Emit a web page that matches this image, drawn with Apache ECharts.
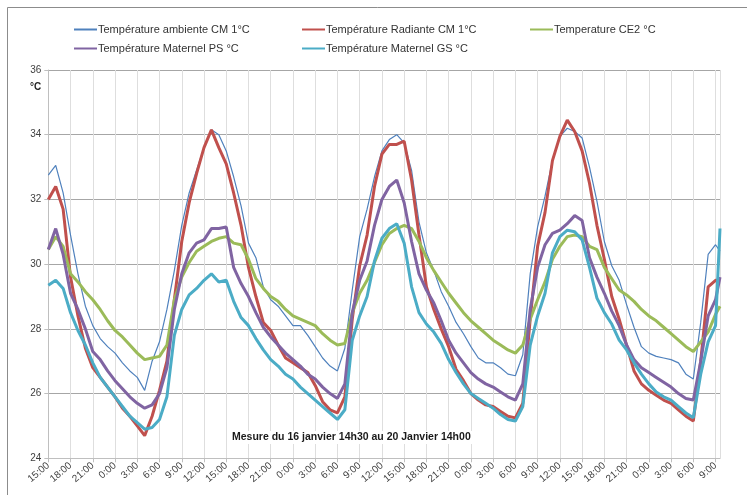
<!DOCTYPE html>
<html>
<head>
<meta charset="utf-8">
<script src="https://cdn.jsdelivr.net/npm/echarts@6/dist/echarts.min.js"></script>
<style>
  html, body { margin: 0; padding: 0; background: #fff; }
  #chart { width: 747px; height: 495px; }
</style>
</head>
<body>
<div id="chart"></div>
<script>
// Hours elapsed since 16 janvier 15:00 (hourly readings + last reading)
const hours = Array.from({ length: 91 }, (_, i) => i).concat([90.6]);

const tickLabels = [
  '15:00','18:00','21:00','0:00','3:00','6:00','9:00','12:00',
  '15:00','18:00','21:00','0:00','3:00','6:00','9:00','12:00',
  '15:00','18:00','21:00','0:00','3:00','6:00','9:00','12:00',
  '15:00','18:00','21:00','0:00','3:00','6:00','9:00'
];

const seriesNames = [
  'Température ambiente CM 1°C',
  'Température Radiante CM 1°C',
  'Temperature CE2 °C',
  'Température Maternel PS °C',
  'Température Maternel GS °C'
];

const ambienteCM1 = [
  32.75,33.05,32.2,30.9,29.7,28.7,28.1,27.7,27.45,27.25,
  26.95,26.7,26.5,26.1,27.0,27.6,28.6,29.8,31.2,32.2,
  32.9,33.6,34.15,34.0,33.5,32.7,31.8,30.65,30.2,29.3,
  28.9,28.7,28.4,28.1,28.1,27.8,27.45,27.1,26.85,26.7,
  27.4,29.2,30.85,31.7,32.7,33.5,33.85,34.0,33.75,32.9,
  31.3,30.35,29.8,29.15,28.7,28.2,27.85,27.45,27.1,26.95,
  26.95,26.8,26.6,26.55,27.2,29.7,31.15,32.1,33.2,33.95,
  34.2,34.1,33.9,33.0,31.95,30.7,29.95,29.5,28.75,28.05,
  27.45,27.25,27.15,27.1,27.05,26.95,26.6,26.45,28.2,30.3,
  30.6,30.4
];

const radianteCM1 = [
  32.0,32.4,31.7,29.6,28.4,27.4,26.8,26.5,26.2,25.9,
  25.55,25.3,25.0,24.7,25.3,26.1,27.0,28.9,30.7,31.9,
  32.8,33.6,34.15,33.6,33.1,32.2,31.2,29.9,29.0,28.2,
  27.95,27.5,27.1,26.95,26.8,26.65,26.25,25.75,25.5,25.4,
  25.9,28.3,29.95,30.9,32.4,33.4,33.7,33.7,33.8,32.6,
  30.9,29.3,28.6,28.0,27.45,26.75,26.4,26.0,25.8,25.65,
  25.6,25.45,25.3,25.25,25.7,28.3,30.55,31.6,33.2,33.95,
  34.45,34.1,33.5,32.5,31.2,30.15,29.0,28.3,27.5,26.7,
  26.3,26.1,25.95,25.8,25.7,25.5,25.3,25.15,27.0,29.3,
  29.5,29.5
];

const ce2 = [
  30.45,30.85,30.55,29.7,29.45,29.15,28.9,28.6,28.25,27.95,
  27.75,27.5,27.25,27.05,27.1,27.15,27.5,28.9,29.6,30.05,
  30.4,30.55,30.7,30.8,30.85,30.65,30.6,30.15,29.55,29.25,
  29.0,28.85,28.6,28.4,28.3,28.2,28.1,27.85,27.65,27.5,
  27.55,28.5,29.1,29.5,30.05,30.6,30.95,31.1,31.2,31.1,
  30.7,30.2,29.8,29.45,29.1,28.8,28.5,28.25,28.05,27.85,
  27.65,27.5,27.35,27.25,27.5,28.3,28.9,29.45,30.15,30.55,
  30.85,30.9,30.85,30.55,30.45,29.9,29.55,29.2,29.05,28.85,
  28.6,28.4,28.25,28.05,27.85,27.65,27.45,27.3,27.6,27.9,
  28.45,28.7
];

const maternelPS = [
  30.45,31.1,30.3,29.1,28.6,28.0,27.3,27.05,26.7,26.4,
  26.15,25.9,25.7,25.55,25.65,26.0,26.8,28.6,29.7,30.35,
  30.65,30.75,31.1,31.1,31.15,29.9,29.4,29.0,28.5,28.05,
  27.75,27.5,27.25,27.05,26.85,26.6,26.45,26.2,26.0,25.85,
  26.3,28.5,29.5,30.1,31.2,32.0,32.4,32.6,31.9,30.7,
  29.7,29.2,28.8,28.25,27.65,27.25,26.95,26.65,26.45,26.3,
  26.2,26.05,25.9,25.8,26.3,28.6,29.9,30.6,30.95,31.05,
  31.25,31.5,31.35,30.2,29.6,29.1,28.55,28.1,27.5,27.05,
  26.8,26.65,26.5,26.35,26.2,26.0,25.85,25.8,27.0,28.4,
  28.9,29.6
];

const maternelGS = [
  29.35,29.5,29.25,28.5,27.95,27.5,26.95,26.5,26.2,25.9,
  25.6,25.3,25.1,24.9,24.95,25.2,25.9,27.8,28.6,29.05,
  29.25,29.5,29.7,29.45,29.5,28.85,28.35,28.1,27.7,27.35,
  27.05,26.85,26.6,26.45,26.2,26.0,25.8,25.6,25.4,25.2,
  25.5,27.65,28.4,29.0,30.1,30.8,31.1,31.25,30.65,29.3,
  28.5,28.15,27.9,27.55,27.05,26.65,26.3,26.0,25.85,25.7,
  25.55,25.35,25.2,25.15,25.6,27.5,28.4,29.1,30.35,30.85,
  31.05,31.0,30.75,29.9,28.95,28.5,28.15,27.65,27.35,26.95,
  26.6,26.3,26.05,25.9,25.8,25.6,25.4,25.25,26.6,27.6,
  28.1,31.1
];

const annotation = 'Mesure du 16 janvier 14h30 au 20 Janvier 14h00';

const colors = ['#4F81BD', '#C0504D', '#9BBB59', '#8064A2', '#4BACC6'];
const widths = [1.2, 3, 3, 3, 3];
const allValues = [ambienteCM1, radianteCM1, ce2, maternelPS, maternelGS];

const FONT = '"Liberation Sans", Arial, sans-serif';

function pairs(vals) { return vals.map((v, i) => [hours[i], v]); }

const chart = echarts.init(document.getElementById('chart'), null, { renderer: 'canvas' });

const legendBase = {
  orient: 'vertical',
  itemWidth: 23,
  itemHeight: 10,
  itemGap: 8,
  top: 24,
  itemStyle: { opacity: 0 },
  textStyle: { fontFamily: FONT, fontSize: 11, color: '#333', padding: [0, 0, 0, -4] },
  selectedMode: false,
  padding: 0
};

chart.setOption({
  animation: false,
  backgroundColor: '#fff',
  color: colors,
  grid: { left: 48.3, right: 27, top: 70, bottom: 36.7, containLabel: false },
  legend: [
    Object.assign({}, legendBase, { left: 73, data: [seriesNames[0], seriesNames[3]] }),
    Object.assign({}, legendBase, { left: 301, data: [seriesNames[1], seriesNames[4]] }),
    Object.assign({}, legendBase, { left: 529, data: [seriesNames[2]] })
  ],
  xAxis: {
    type: 'value',
    min: 0,
    max: 90.6,
    interval: 3,
    axisLine: { show: true, onZero: false, lineStyle: { color: '#bfbfbf', width: 1 } },
    axisTick: { show: true, length: 4, lineStyle: { color: '#bfbfbf' } },
    axisLabel: {
      rotate: 40,
      fontFamily: FONT,
      fontSize: 10,
      color: '#404040',
      margin: 6,
      showMaxLabel: false,
      formatter: function (v) {
        const i = Math.round(v / 3);
        return Math.abs(v - i * 3) < 1e-6 && tickLabels[i] !== undefined ? tickLabels[i] : '';
      }
    },
    splitLine: { show: true, lineStyle: { color: '#dedede', width: 1 } }
  },
  yAxis: {
    type: 'value',
    min: 24,
    max: 36,
    interval: 2,
    axisLine: { show: true, lineStyle: { color: '#bfbfbf', width: 1 } },
    axisTick: { show: true, length: 4, lineStyle: { color: '#bfbfbf' } },
    axisLabel: { fontFamily: FONT, fontSize: 10, color: '#404040', margin: 7 },
    splitLine: { show: true, lineStyle: { color: '#a6a6a6', width: 1 } }
  },
  graphic: [
    {
      type: 'polyline',
      shape: { points: [[7.5, 500], [7.5, 7.5], [760, 7.5]] },
      style: { fill: null, stroke: '#8c8c8c', lineWidth: 1 },
      silent: true,
      z: 100
    },
    {
      type: 'text',
      left: 30,
      top: 82,
      z: 100,
      style: { text: '°C', fontFamily: FONT, fontSize: 10, fontWeight: 'bold', fill: '#262626' }
    },
    {
      type: 'text',
      left: 230,
      top: 431,
      z: 100,
      style: {
        text: annotation, fontFamily: FONT, fontSize: 10.5, fontWeight: 'bold', fill: '#1a1a1a',
        backgroundColor: '#ffffff', padding: [1, 2, 1, 2]
      }
    }
  ],
  series: allValues.map((vals, k) => ({
    name: seriesNames[k],
    type: 'line',
    data: pairs(vals),
    symbol: 'none',
    showSymbol: false,
    smooth: false,
    lineStyle: { color: colors[k], width: widths[k] },
    itemStyle: { color: colors[k] },
    z: 2 + k
  }))
});
</script>
</body>
</html>
